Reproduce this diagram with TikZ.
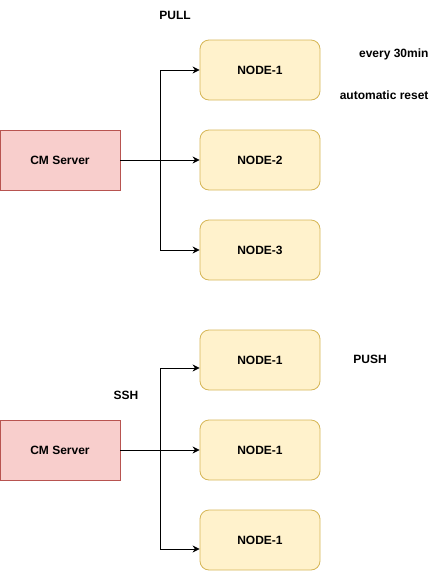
\documentclass[tikz,border=0pt]{standalone}
\usepackage{fontspec}
\setmainfont{Liberation Sans}
\usetikzlibrary{arrows.meta, positioning, calc}

\definecolor{srvfill}{HTML}{F8CECC}
\definecolor{srvline}{HTML}{B85450}
\definecolor{nodefill}{HTML}{FFF2CC}
\definecolor{nodeline}{HTML}{D6B656}

\begin{document}
\begin{tikzpicture}[x=1pt, y=-1pt, font=\fontsize{12}{14}\selectfont\bfseries,
    server/.style={draw=srvline, fill=srvfill, line width=0.8pt, minimum width=120pt, minimum height=60pt},
    worker/.style={draw=nodeline, fill=nodefill, line width=0.8pt, rounded corners=9pt, minimum width=120pt, minimum height=60pt},
    link/.style={-{Stealth[length=7pt, width=7pt]}, line width=0.8pt}]
      \useasboundingbox (0,0) rectangle (441,571);
      % PULL group
      \node[server] (srvA) at (60,160) {CM Server};
      \foreach \name/\y/\txt in {pa/70/NODE-1, pb/160/NODE-2, pc/250/NODE-3} {
        \node[worker] (\name) at (260,\y) {\txt};
      }
      \coordinate (jA) at (160,160);
      \draw[link] (srvA.east) -- (jA) |- (pa.west);
      \draw[link] (jA) -- (pb.west);
      \draw[link] (jA) |- (pc.west);
      \node (pull) at (175,15) {PULL};
      \node[anchor=east] (every) at (432,54) {every 30min};
      \node[anchor=east] (reset) at (432,95) {automatic reset};
      % PUSH group
      \node[server] (srvB) at (60,450) {CM Server};
      \foreach \name/\y in {qa/360, qb/450, qc/540} {
        \node[worker] (\name) at (260,\y) {NODE-1};
      }
      \coordinate (jB) at (160,450);
      \draw[link] (srvB.east) -- (jB) |- ([yshift=-8pt]qa.west);
      \draw[link] (jB) -- (qb.west);
      \draw[link] (jB) |- ([yshift=-9pt]qc.west);
      \node (ssh) at (126,395) {SSH};
      \node (push) at (370,359) {PUSH};
    \end{tikzpicture}
\end{document}
